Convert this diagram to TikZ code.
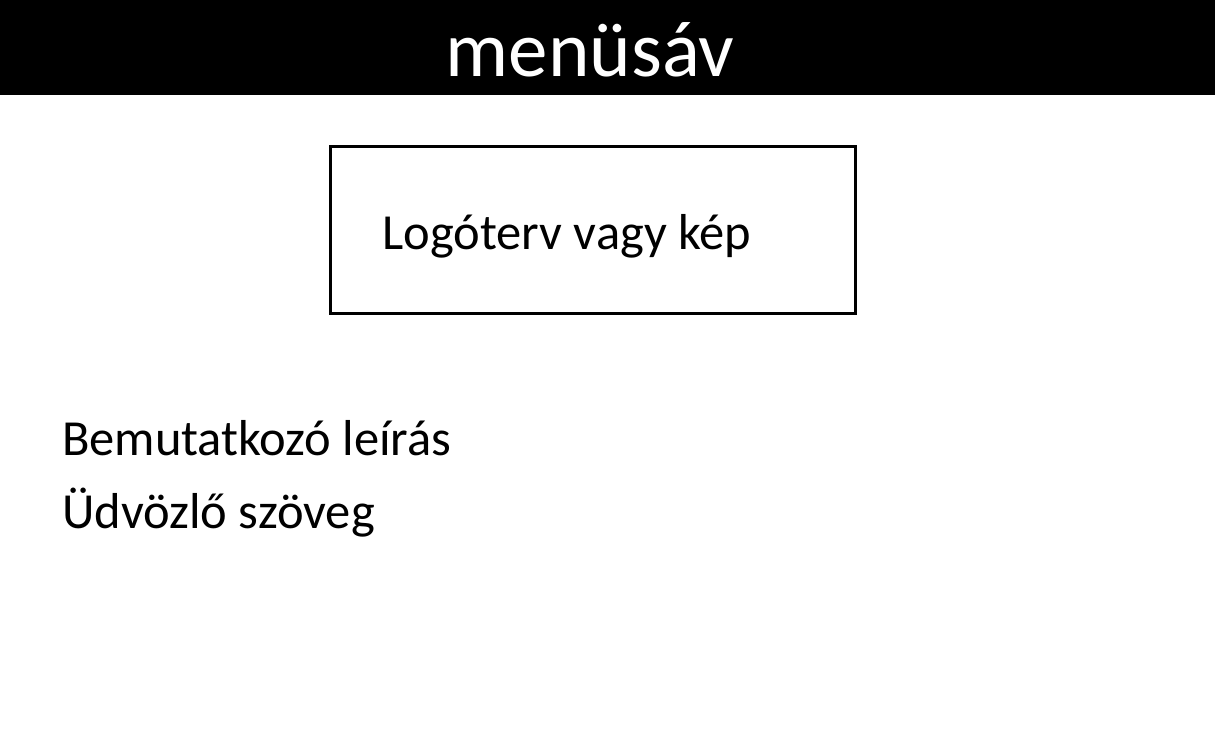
\documentclass[tikz,border=0pt]{standalone}
\usepackage{fontspec}
\setmainfont{Carlito}
\begin{document}
\begin{tikzpicture}[x=1pt,y=-1pt,
  txt/.style={inner sep=0pt,anchor=base west,font=\fontsize{50.5}{60}\selectfont},
  box/.style={draw=black,line width=3.5pt,inner sep=0pt}]
\useasboundingbox (0,0) rectangle (1215,730);
\fill[white] (0,0) rectangle (1215,730);
\fill[black] (0,0) rectangle (1215,95);
\node[inner sep=0pt,anchor=base,text=white,font=\fontsize{79}{90}\selectfont] (menu) at (590,77) {menüsáv};
\node[box,minimum width=525pt,minimum height=167pt] (logo) at (593,230) {};
\node[txt] (logotext) at (382,249) {Logóterv vagy kép};
\node[txt] (bemut) at (62,455) {Bemutatkozó leírás};
\node[txt] (udv) at (62,528) {Üdvözlő szöveg};
\end{tikzpicture}
\end{document}
